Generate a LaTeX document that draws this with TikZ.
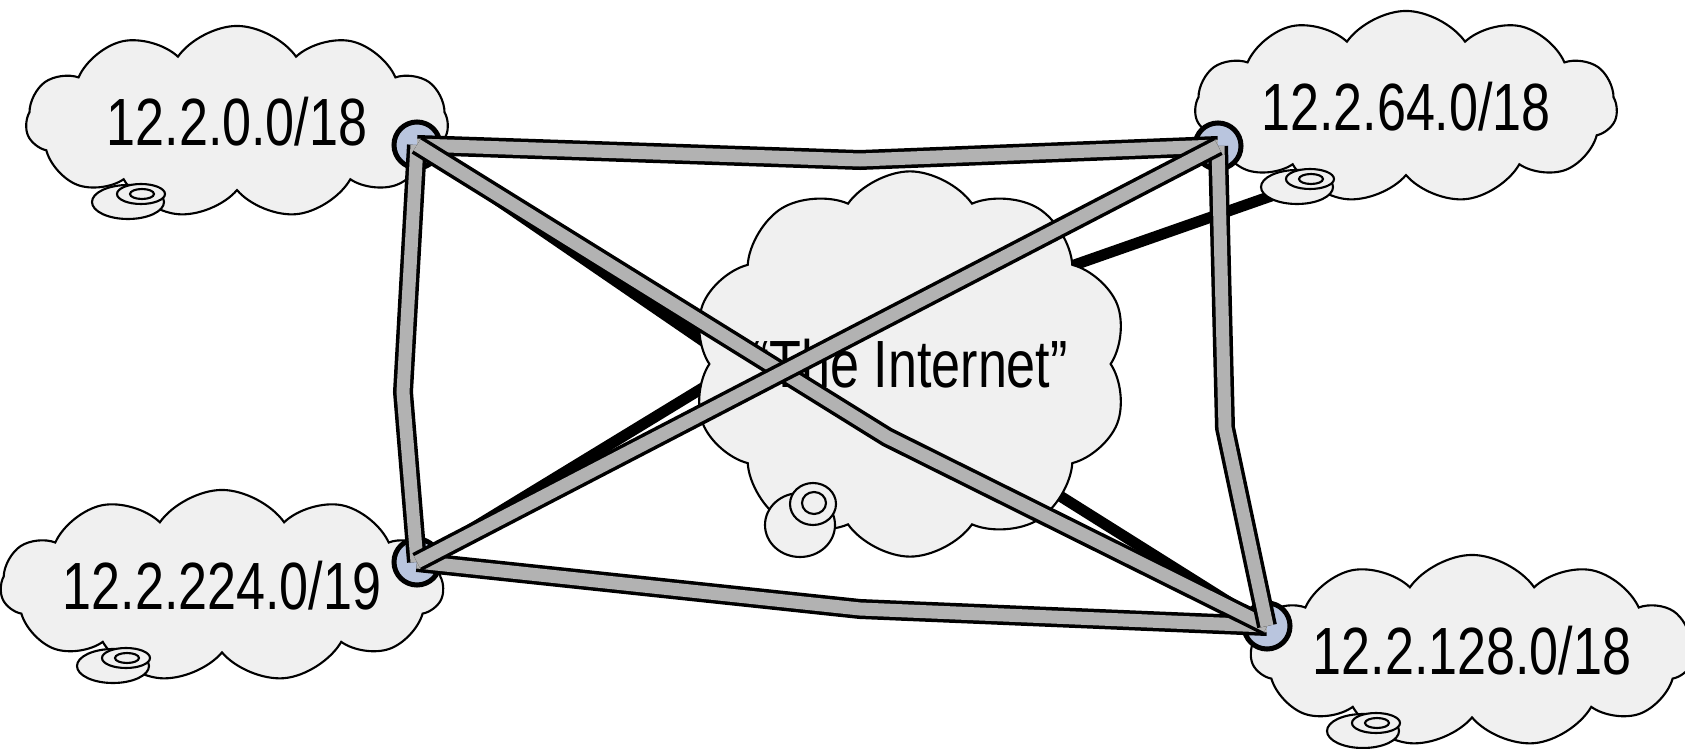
\documentclass[tikz,border=0pt]{standalone}
\usepackage{fontspec}
\setmainfont{Liberation Sans}[FakeStretch=0.78]
\usetikzlibrary{shapes.symbols, backgrounds, calc}

\definecolor{cloudfill}{RGB}{240,240,240}
\definecolor{linkgray}{RGB}{178,178,178}
\definecolor{rtrblue}{RGB}{185,197,222}

\begin{document}
\begin{tikzpicture}[
    x=0.01cm, y=-0.01cm,
    net/.style={cloud, cloud puffs=11, cloud puff arc=110, cloud ignores aspect, draw, fill=cloudfill,
        line width=0.6pt, inner sep=0pt, minimum width=4.22cm, minimum height=1.92cm,
        font=\fontsize{19}{22}\selectfont},
    disk/.style={draw, fill=cloudfill, line width=0.6pt},
    rtr/.style={circle, draw, line width=0.05cm, fill=rtrblue, minimum size=0.46cm, inner sep=0pt},
    lnk/.style={line width=0.035cm, double=linkgray, double distance=0.13cm},
    blk/.style={line width=0.11cm}
]
    \useasboundingbox (0,0) rectangle (1685,749);

    % subnets
    \node[net] (c1) at (237,122) {12.2.0.0/18};
    \node[net] (c2) at (1406,107) {12.2.64.0/18};
    \node[net] (c3) at (222,586) {12.2.224.0/19};
    \node[net] (c4) at (1472,651) {12.2.128.0/18};
    \foreach \c in {c1,c2,c3,c4} {
        \draw[disk] ($(\c)+(-109,80)$) ellipse (36 and 17);
        \draw[disk] ($(\c)+(-96,72)$) ellipse (24 and 10);
        \draw[disk] ($(\c)+(-95,72)$) ellipse (12 and 5);
    }

    % border routers
    \node[rtr] (r1) at (417,145) {};
    \node[rtr] (r2) at (1218,146) {};
    \node[rtr] (r3) at (417,562) {};
    \node[rtr] (r4) at (1267,626) {};
    \coordinate (d2) at ($(c2)+(-109,80)$);

    % provider links, hidden behind the internet cloud
    \begin{pgfonlayer}{background}
        \draw[blk] (r1.center) -- (760,380) -- (990,452) -- (r4.center);
        \draw[blk] (r3.center) -- (760,353) -- (1060,270) -- (d2);
    \end{pgfonlayer}

    % the internet
    \node[net, cloud puffs=10, minimum width=4.24cm, minimum height=3.85cm] (c0) at (910,364) {``The Internet''};
    \draw[disk] ($(c0)+(-110,161)$) ellipse (35 and 32);
    \draw[disk] ($(c0)+(-97,140)$) ellipse (23 and 21);
    \draw[disk] ($(c0)+(-96,139)$) ellipse (12 and 11);

    % private links
    \draw[lnk] (r1.center) -- (860,160) -- (r2.center);
    \draw[lnk] (r1.center) -- (403,392) -- (r3.center);
    \draw[lnk] (r3.center) -- (860,609) -- (r4.center);
    \draw[lnk] (r1.center) -- (887,437) -- (r4.center);
    \draw[lnk] (r2.center) -- (1225,428) -- (r4.center);
    \draw[lnk] (r3.center) -- (r2.center);
\end{tikzpicture}
\end{document}
